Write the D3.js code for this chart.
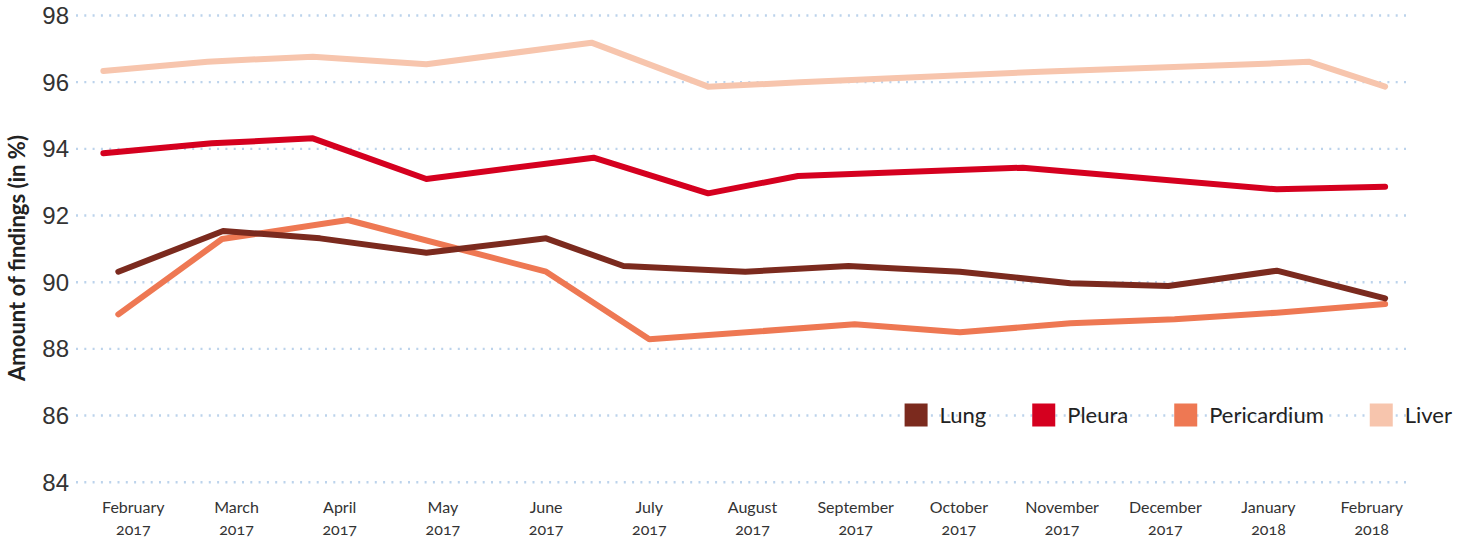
<!DOCTYPE html>
<html>
<head>
<meta charset="utf-8">
<script src="https://cdn.jsdelivr.net/npm/d3@7"></script>
<style>
	body { margin: 0; background: #fff; }
	svg { font-family: Lato, "Open Sans", sans-serif; }
	.grid line { stroke: #bcd3ec; stroke-width: 2.4; stroke-dasharray: 2 6.3; }
	.grid text { font-size: 24px; fill: #333; font-variant-numeric: oldstyle-nums; }
	.xlab text { font-size: 16px; fill: #333; font-variant-numeric: oldstyle-nums; }
</style>
</head>
<body>
<svg id="svg_main" width="1469" height="539"></svg>
<script>
// month labels on the x axis
const months = ["February", "March", "April", "May", "June", "July", "August",
	"September", "October", "November", "December", "January", "February"];
const years = ["2017", "2017", "2017", "2017", "2017", "2017", "2017",
	"2017", "2017", "2017", "2017", "2018", "2018"];
const yTicks = [84, 86, 88, 90, 92, 94, 96, 98];

// [month index (0 = Feb 2017), percent]
const lung = [[-0.145, 90.3], [0.87, 91.52], [1.81, 91.3], [2.84, 90.87], [4.0, 91.3],
	[4.75, 90.47], [5.93, 90.3], [6.93, 90.47], [8.01, 90.3], [9.08, 89.95],
	[10.03, 89.87], [11.08, 90.33], [12.13, 89.5]];
const pleura = [[-0.29, 93.85], [0.76, 94.15], [1.74, 94.3], [2.84, 93.08], [4.46, 93.72],
	[5.57, 92.65], [6.44, 93.17], [8.62, 93.42], [11.08, 92.77], [12.13, 92.85]];
const pericardium = [[-0.145, 89.02], [0.86, 91.28], [2.08, 91.85], [4.0, 90.3],
	[5.0, 88.27], [6.99, 88.72], [8.01, 88.48], [9.08, 88.75], [10.09, 88.87],
	[11.08, 89.07], [12.13, 89.33]];
const liver = [[-0.29, 96.32], [0.72, 96.6], [1.74, 96.75], [2.84, 96.52], [4.44, 97.17],
	[5.57, 95.85], [6.46, 95.98], [8.79, 96.3], [11.06, 96.55], [11.39, 96.6], [12.13, 95.85]];

const names = ["Lung", "Pleura", "Pericardium", "Liver"];
const colors = ["#7b2a1e", "#d5001f", "#ee7853", "#f7c5ad"];
const series = [lung, pleura, pericardium, liver];

var svg = d3.select("#svg_main");

var left = 76, right = 1410;

var x = d3.scaleLinear().domain([0, 12]).range([133.3, 1371.7]),
	y = d3.scaleLinear().domain([84, 98]).range([481.7, 15]);

// dotted grid + y labels
var yGrid = d3.axisLeft(y).tickValues(yTicks).tickSize(-(right - left)).tickPadding(7);
svg.append("g")
	.attr("class", "grid")
	.attr("transform", `translate(${left}, 0)`)
	.call(yGrid)
	.call(g => g.select(".domain").remove())
	.call(g => g.selectAll(".tick text").attr("dy", "0.36em"));

// x labels, two lines
var xl = svg.append("g").attr("class", "xlab");
months.forEach((m, i) => {
	let t = xl.append("text")
		.attr("x", x(i))
		.attr("text-anchor", "middle");
	t.append("tspan").attr("x", x(i)).attr("y", 513).text(m);
	t.append("tspan").attr("x", x(i)).attr("y", 535).text(years[i]);
});

// y title
svg.append("text")
	.attr("transform", `translate(25, 258) rotate(-90)`)
	.attr("text-anchor", "middle")
	.attr("font-size", "22px")
	.attr("font-weight", "bold")
	.attr("fill", "#222")
	.text("Amount of findings (in %)");

var line = d3.line()
	.x(d => x(d[0]))
	.y(d => y(d[1]));

// draw back to front so Lung ends up on top
for (let k = series.length - 1; k >= 0; k--) {
	svg.append("path")
		.datum(series[k])
		.attr("fill", "none")
		.attr("stroke", colors[k])
		.attr("stroke-width", 6)
		.attr("stroke-linecap", "round")
		.attr("stroke-linejoin", "round")
		.attr("d", line);
}

// legend, right aligned
var legend = svg.append("g").attr("class", "legend");
var items = names.map((n, k) => {
	let g = legend.append("g");
	g.append("rect")
		.attr("width", 23)
		.attr("height", 23)
		.attr("y", 403.5)
		.attr("fill", colors[k]);
	let t = g.append("text")
		.attr("x", 35)
		.attr("y", 423)
		.attr("font-size", "22px")
		.attr("fill", "#222")
		.text(n);
	return { g: g, w: 35 + t.node().getComputedTextLength() };
});
var gap = 46,
	total = d3.sum(items, d => d.w) + gap * (items.length - 1),
	pos = 1452 - total;
for (let it of items) {
	it.g.attr("transform", `translate(${pos}, 0)`);
	pos += it.w + gap;
}
</script>
</body>
</html>
